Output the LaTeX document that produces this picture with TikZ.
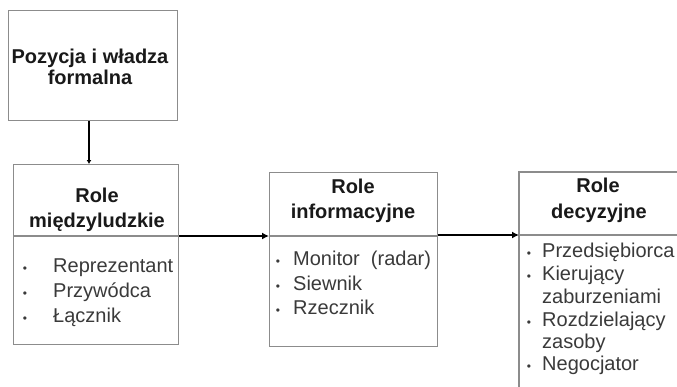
\documentclass[tikz,border=0pt]{standalone}
\usepackage{fontspec}
\setmainfont{Liberation Sans}
\usetikzlibrary{arrows.meta}
\definecolor{boxgray}{HTML}{8C8C8C}
\definecolor{bodytext}{HTML}{3A3A3A}
\begin{document}
\begin{tikzpicture}[x=1pt,y=-1pt,
  box/.style={draw=boxgray, line width=1.4pt, fill=white, rectangle, inner sep=0pt, anchor=north west},
  divider/.style={draw=boxgray, line width=1.4pt},
  title/.style={font=\fontsize{20}{24}\selectfont\bfseries, text=black!90, anchor=base, inner sep=0pt},
  item/.style={font=\fontsize{20}{24}\selectfont, text=bodytext, anchor=base west, inner sep=0pt},
  dot/.style={font=\fontsize{12}{12}\selectfont, text=bodytext, anchor=base, inner sep=0pt},
  flow/.style={draw=black, line width=2.4pt, -{Latex[length=7pt,width=7pt]}},
  drop/.style={draw=black, line width=2pt, -{Latex[length=4pt,width=5pt]}},
]
\useasboundingbox (0,0) rectangle (677,386);
\clip (0,0) rectangle (677,386);
\fill[white] (0,0) rectangle (677,386);

% boxes
\node[box, minimum width=169pt, minimum height=110pt] (pos) at (8,10) {};
\node[box, minimum width=165pt, minimum height=180pt] (inter) at (13,164) {};
\node[box, minimum width=168pt, minimum height=174pt] (info) at (269,172) {};
% the last box runs past the right and bottom edges of the page
\node[box, draw=none, minimum width=400pt, minimum height=300pt] (dec) at (519,172) {};
\draw[divider] (dec.south west) -- (dec.north west) -- (dec.north east);

% heights of the dividers and of the vertical link
\coordinate (d2) at (0,236);
\coordinate (d3) at (0,236);
\coordinate (d4) at (0,235);
\coordinate (vx) at (89,0);

\draw[divider] (inter.west |- d2) -- (inter.east |- d2);
\draw[divider] (info.west |- d3) -- (info.east |- d3);
\draw[divider] (dec.west |- d4) -- (dec.east |- d4);

% connectors
\draw[drop] (pos.south -| vx) -- (inter.north -| vx);
\draw[flow] (inter.east |- d2) -- (info.west |- d2);
\draw[flow] (info.east |- d4) -- (dec.west |- d4);

% titles
\node[title] (pos1) at (90,63) {Pozycja i władza};
\node[title] (pos2) at (90,84) {formalna};
\node[title] (int1) at (97,202) {Role};
\node[title] (int2) at (97,227) {międzyludzkie};
\node[title] (inf1) at (353,193) {Role};
\node[title] (inf2) at (353,218) {informacyjne};
\node[title] (dec1) at (598,192) {Role};
\node[title] (dec2) at (599,218) {decyzyjne};

% interpersonal roles
\node[dot] (ib1) at (25,272) {•};
\node[item] (it1) at (53,272) {Reprezentant};
\node[dot] (ib2) at (25,297) {•};
\node[item] (it2) at (53,297) {Przywódca};
\node[dot] (ib3) at (25,322) {•};
\node[item] (it3) at (53,322) {Łącznik};

% informational roles
\node[dot] (fb1) at (278,265) {•};
\node[item] (ft1) at (293,265) {Monitor\ \ (radar)};
\node[dot] (fb2) at (278,290) {•};
\node[item] (ft2) at (293,290) {Siewnik};
\node[dot] (fb3) at (278,314) {•};
\node[item] (ft3) at (293,314) {Rzecznik};

% decisional roles
\node[dot] (db1) at (529,257) {•};
\node[item] (dt1) at (542,257) {Przedsiębiorca};
\node[dot] (db2) at (529,280) {•};
\node[item] (dt2) at (542,280) {Kierujący};
\node[item] (dt2b) at (542,303) {zaburzeniami};
\node[dot] (db3) at (529,326) {•};
\node[item] (dt3) at (542,326) {Rozdzielający};
\node[item] (dt3b) at (542,348) {zasoby};
\node[dot] (db4) at (529,370) {•};
\node[item] (dt4) at (542,370) {Negocjator};
\end{tikzpicture}
\end{document}
